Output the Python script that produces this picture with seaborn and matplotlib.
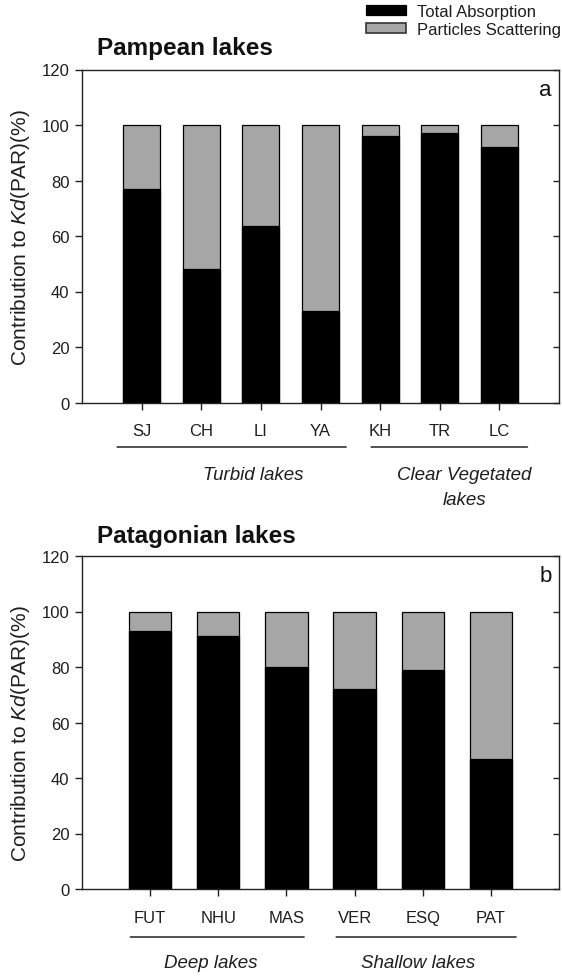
import matplotlib
matplotlib.use("Agg")
import matplotlib.pyplot as plt
import seaborn as sns
import pandas as pd
from matplotlib.patches import Patch
from matplotlib.lines import TICKLEFT

# ---------------- data ----------------
pampean_lakes = ["SJ", "CH", "LI", "YA", "KH", "TR", "LC"]
pampean_absorption = [77, 48, 63.5, 33, 96, 97, 92]
pampean_scattering = [23, 52, 36.5, 67, 4, 3, 8]

patagonian_lakes = ["FUT", "NHU", "MAS", "VER", "ESQ", "PAT"]
patagonian_absorption = [93, 91, 80, 72, 79, 47]
patagonian_scattering = [7, 9, 20, 28, 21, 53]

y_ticks = [0, 20, 40, 60, 80, 100, 120]
legend_labels = ["Total Absorption", "Particles Scattering"]
panel_titles = ["Pampean lakes", "Patagonian lakes"]
panel_letters = ["a", "b"]
# group name, bracket start, bracket end, text centre (category units)
pampean_groups = [("Turbid lakes", -0.41, 3.43, 1.88),
                  ("Clear Vegetated\nlakes", 3.85, 6.47, 5.41)]
patagonian_groups = [("Deep lakes", -0.29, 2.26, 0.89),
                     ("Shallow lakes", 2.73, 5.37, 3.93)]

# ---------------- style ----------------
sns.set_theme(style="white")
plt.rcParams["font.family"] = ["Liberation Sans", "DejaVu Sans"]
plt.rcParams["mathtext.fontset"] = "custom"
plt.rcParams["mathtext.rm"] = "Liberation Sans"
plt.rcParams["mathtext.it"] = "Liberation Sans:italic"

GRAY = "#a6a6a6"
BLACK = "#000000"
SPINE = "#222222"
TXT = "#1e1e1e"

W, H = 562, 979
fig = plt.figure(figsize=(W / 100, H / 100), dpi=100)

def fx(px):
    return px / W

def fy(py):
    return 1 - py / H

AX_H = 333.0
ax_a = fig.add_axes([fx(82), fy(403.5), fx(559) - fx(82), fy(70.5) - fy(403.5)])
ax_b = fig.add_axes([fx(82), fy(890), fx(559) - fx(82), fy(557) - fy(890)])

def draw_panel(ax, cats, absorb, scatter, groups, letter, ylab_y,
               line_off, text_off):
    df = pd.DataFrame({"lake": cats,
                       "total": [a + s for a, s in zip(absorb, scatter)],
                       "absorption": absorb})
    sns.barplot(data=df, x="lake", y="total", color=GRAY, edgecolor=BLACK,
                linewidth=0.9, width=0.62, saturation=1, ax=ax)
    sns.barplot(data=df, x="lake", y="absorption", color=BLACK, edgecolor=BLACK,
                linewidth=0.9, width=0.62, saturation=1, ax=ax)
    ax.set_xlim(-1, len(cats))
    ax.set_ylim(0, 120)
    ax.set_yticks(y_ticks)
    ax.set_xlabel("")
    ax.set_ylabel("Contribution to $\\it{Kd}$(PAR)(%)", fontsize=15, color=TXT)
    ax.yaxis.set_label_coords(-0.105, ylab_y)
    for sp in ax.spines.values():
        sp.set_visible(True)
        sp.set_color(SPINE)
        sp.set_linewidth(1.0)
    ax.tick_params(axis="y", which="major", left=True, right=True, direction="out",
                   length=5, width=1, color=SPINE, labelsize=12, pad=4,
                   labelcolor=TXT)
    ax.tick_params(axis="x", bottom=True, direction="out", length=5, width=1,
                   color=SPINE, labelsize=12, pad=10, labelcolor=TXT)
    for t in ax.yaxis.get_major_ticks():
        t.tick2line.set_marker(TICKLEFT)   # right-side ticks point inward
        t.tick2line.set_markersize(4)
    ax.text(0.972, 0.94, letter, transform=ax.transAxes, ha="center", va="center",
            fontsize=16, color="#111111")
    for name, x0, x1, xc in groups:
        ax.annotate("", xy=(x0, -line_off / AX_H), xytext=(x1, -line_off / AX_H),
                    xycoords=("data", "axes fraction"),
                    textcoords=("data", "axes fraction"),
                    arrowprops=dict(arrowstyle="-", color="#222222", lw=1.1,
                                    shrinkA=0, shrinkB=0),
                    annotation_clip=False)
        for i, part in enumerate(name.split("\n")):
            ax.annotate(part, xy=(xc, -(text_off + 25 * i) / AX_H),
                        xycoords=("data", "axes fraction"),
                        ha="center", va="baseline", fontsize=13.5, style="italic",
                        color=TXT, annotation_clip=False)

draw_panel(ax_a, pampean_lakes, pampean_absorption, pampean_scattering,
           pampean_groups, panel_letters[0], 0.5, 44.5, 76.5)
draw_panel(ax_b, patagonian_lakes, patagonian_absorption, patagonian_scattering,
           patagonian_groups, panel_letters[1], 0.47, 48, 78)

fig.text(fx(97), fy(48), panel_titles[0], ha="left", va="center",
         fontsize=17.5, fontweight="bold", color="#111111")
fig.text(fx(97), fy(537), panel_titles[1], ha="left", va="center",
         fontsize=17.5, fontweight="bold", color="#111111")

handles = [Patch(facecolor=BLACK, edgecolor=BLACK, linewidth=0.9),
           Patch(facecolor=GRAY, edgecolor="#333333", linewidth=1.2)]
fig.legend(handles, legend_labels, loc="upper right",
           bbox_to_anchor=(fx(561), fy(5)), frameon=False, fontsize=12,
           handlelength=2.4, handleheight=0.55, handletextpad=0.65,
           labelspacing=0.2, borderpad=0, borderaxespad=0,
           labelcolor=TXT)

fig.savefig("out.png", dpi=100)
